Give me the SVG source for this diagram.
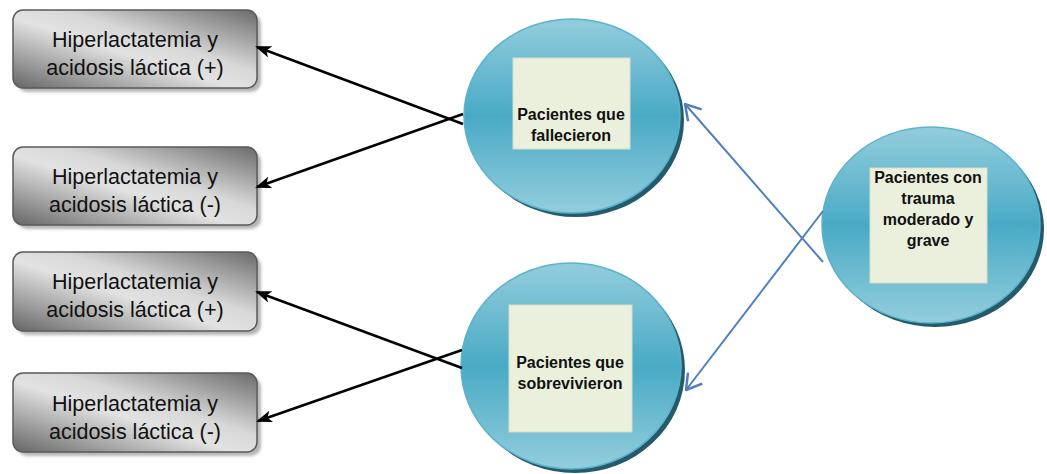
<svg xmlns="http://www.w3.org/2000/svg" width="1047" height="474" viewBox="0 0 1047 474">
<style>
.box{stroke:#5a5a5a;stroke-width:1.5;fill:url(#gGray)}
.bshadow{fill:#b5b5b5;filter:url(#blur)}
.btxt{font-family:"Liberation Sans",Arial,sans-serif;font-size:21.5px;fill:#111;text-anchor:middle}
.circ{fill:url(#gBlue);stroke:#5ab3cc;stroke-width:1.5}
.cshadow{fill:#245a6a}
.inner{fill:#eaf0dc;stroke:#d8dec8;stroke-width:1}
.ctxt{font-family:"Liberation Sans",Arial,sans-serif;font-size:16px;font-weight:bold;fill:#111;text-anchor:middle}
.blk{stroke:#000;stroke-width:2.5;fill:none;marker-end:url(#aBlack)}
.blu{stroke:#4f7fc0;stroke-width:2;fill:none;marker-end:url(#aBlue)}
</style>
<defs>
<linearGradient id="gGray" x1="0" y1="1" x2="1" y2="0">
<stop offset="0" stop-color="#656565"/>
<stop offset="0.45" stop-color="#e2e2e2"/>
<stop offset="0.6" stop-color="#d8d8d8"/>
<stop offset="1" stop-color="#6a6a6a"/>
</linearGradient>
<linearGradient id="gBlue" x1="0" y1="0" x2="0" y2="1">
<stop offset="0" stop-color="#93cddd"/>
<stop offset="0.5" stop-color="#49aac5"/>
<stop offset="1" stop-color="#93cddd"/>
</linearGradient>
<filter id="blur" x="-10%" y="-10%" width="120%" height="130%"><feGaussianBlur stdDeviation="1.5"/></filter>
<marker id="aBlack" markerWidth="16" markerHeight="12" refX="14" refY="6" orient="auto" markerUnits="userSpaceOnUse">
<path d="M0,0 L16,6 L0,12 L4,6 Z" fill="#000"/>
</marker>
<marker id="aBlue" markerWidth="18" markerHeight="20" refX="17" refY="10" orient="auto" markerUnits="userSpaceOnUse">
<path d="M2,1 L17,10 L2,19" fill="none" stroke="#4f7fc0" stroke-width="2.5"/>
</marker>
</defs>

<g id="box1">
<rect class="bshadow" x="17" y="14" width="244" height="78" rx="10"/>
<rect class="box" x="13" y="10" width="244" height="78" rx="10"/>
<text class="btxt" x="135" y="47">Hiperlactatemia y</text>
<text class="btxt" x="135" y="75">acidosis láctica (+)</text>
</g>
<g id="box2">
<rect class="bshadow" x="17" y="151" width="244" height="78" rx="10"/>
<rect class="box" x="13" y="147" width="244" height="78" rx="10"/>
<text class="btxt" x="135" y="184">Hiperlactatemia y</text>
<text class="btxt" x="135" y="212">acidosis láctica (-)</text>
</g>
<g id="box3">
<rect class="bshadow" x="17" y="256" width="244" height="79" rx="10"/>
<rect class="box" x="13" y="252" width="244" height="79" rx="10"/>
<text class="btxt" x="135" y="289">Hiperlactatemia y</text>
<text class="btxt" x="135" y="317">acidosis láctica (+)</text>
</g>
<g id="box4">
<rect class="bshadow" x="17" y="377" width="244" height="79" rx="10"/>
<rect class="box" x="13" y="373" width="244" height="79" rx="10"/>
<text class="btxt" x="135" y="411">Hiperlactatemia y</text>
<text class="btxt" x="135" y="439">acidosis láctica (-)</text>
</g>

<g id="fallecieron">
<ellipse class="cshadow" cx="576" cy="120" rx="108" ry="97"/>
<ellipse class="circ" cx="572" cy="116" rx="108" ry="97"/>
<rect class="inner" x="513" y="58" width="117" height="91"/>
<text class="ctxt" x="571" y="120">Pacientes que</text>
<text class="ctxt" x="571" y="141">fallecieron</text>
</g>
<g id="sobrevivieron">
<ellipse class="cshadow" cx="575" cy="370" rx="110" ry="103"/>
<ellipse class="circ" cx="571" cy="366" rx="110" ry="103"/>
<rect class="inner" x="509" y="305" width="123" height="127"/>
<text class="ctxt" x="570" y="368">Pacientes que</text>
<text class="ctxt" x="570" y="389">sobrevivieron</text>
</g>
<g id="trauma">
<ellipse class="cshadow" cx="935" cy="229" rx="109" ry="98"/>
<ellipse class="circ" cx="931" cy="225" rx="109" ry="98"/>
<rect class="inner" x="870" y="168" width="117" height="115"/>
<text class="ctxt" x="928" y="183">Pacientes con</text>
<text class="ctxt" x="928" y="204">trauma</text>
<text class="ctxt" x="928" y="225">moderado y</text>
<text class="ctxt" x="928" y="246">grave</text>
</g>

<g id="connectors">
<line class="blk" x1="463" y1="124" x2="257" y2="47"/>
<line class="blk" x1="463" y1="114" x2="257" y2="187"/>
<line class="blk" x1="462" y1="368" x2="257" y2="292"/>
<line class="blk" x1="462" y1="350" x2="258" y2="421"/>
<line class="blu" x1="823" y1="262" x2="685" y2="104"/>
<line class="blu" x1="823" y1="211" x2="686" y2="390"/>
</g>
</svg>
